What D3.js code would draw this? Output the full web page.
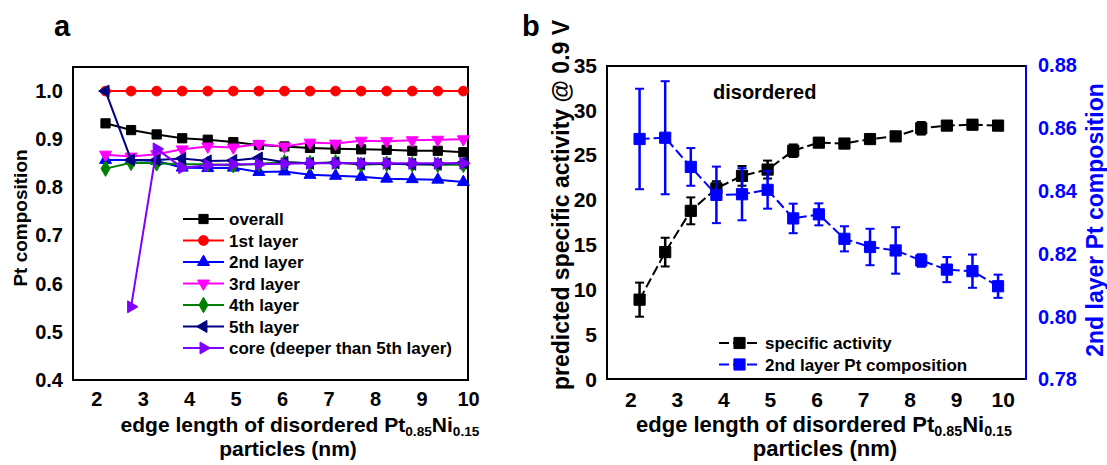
<!DOCTYPE html>
<html><head><meta charset="utf-8">
<script src="https://cdn.jsdelivr.net/npm/d3@7"></script>
<style>
body{margin:0;background:#fff;}
text{font-family:"Liberation Sans",Arial,sans-serif;font-weight:bold;}
</style></head>
<body><svg id="chart" width="1107" height="465"></svg>
<script>
// ---------- data ----------
const sizes   = [2.2, 2.75, 3.3, 3.85, 4.4, 4.95, 5.5, 6.05, 6.6, 7.15, 7.7, 8.25, 8.8, 9.35, 9.9];
const overall = [0.933,0.919,0.910,0.902,0.899,0.894,0.888,0.885,0.882,0.880,0.879,0.878,0.876,0.876,0.873];
const layer1  = [1.0,1.0,1.0,1.0,1.0,1.0,1.0,1.0,1.0,1.0,1.0,1.0,1.0,1.0,1.0];
const layer2  = [0.857,0.857,0.855,0.841,0.840,0.841,0.832,0.833,0.826,0.824,0.822,0.818,0.817,0.816,0.811];
const layer3  = [0.868,0.864,0.869,0.879,0.885,0.883,0.890,0.885,0.893,0.891,0.897,0.896,0.898,0.899,0.900];
const layer4  = [0.839,0.851,0.850,0.848,0.848,0.846,0.849,0.852,0.850,0.852,0.847,0.849,0.848,0.847,0.847];
const layer5  = [1.0,0.857,0.857,0.860,0.855,0.856,0.861,0.852,0.850,0.851,0.849,0.849,0.848,0.848,0.851];
const core    = [null,0.552,0.880,0.841,0.846,0.848,0.848,0.849,0.850,0.850,0.850,0.850,0.850,0.850,0.850];
const seriesNamesA = ["overall","1st layer","2nd layer","3rd layer","4th layer","5th layer","core (deeper than 5th layer)"];

const activity    = [8.9,14.2,18.8,21.3,22.7,23.4,25.5,26.4,26.3,26.8,27.1,28.0,28.3,28.4,28.3];
const activityErr = [1.9,1.6,1.5,0.8,1.1,1.0,0.7,0.4,0.5,0.4,0.3,0.7,0.3,0.5,0.5];
const comp2       = [0.8566,0.8570,0.8477,0.8388,0.8390,0.8404,0.8313,0.8326,0.8248,0.8222,0.8211,0.8179,0.8150,0.8145,0.8097];
const comp2Err    = [0.016,0.018,0.006,0.009,0.0083,0.006,0.0047,0.0035,0.004,0.0058,0.0074,0.002,0.004,0.0053,0.0037];

const xTicks  = [2,3,4,5,6,7,8,9,10];
const yTicksA = [0.4,0.5,0.6,0.7,0.8,0.9,1.0];
const yTicksL = [0,5,10,15,20,25,30,35];
const yTicksR = [0.78,0.80,0.82,0.84,0.86,0.88];

// ---------- setup ----------
const svg = d3.select("#chart");
const BLUE = "#0000ff";

function sym(g, type, size, x, y, color, rot) {
  g.append("path")
    .attr("d", d3.symbol().type(type).size(size)())
    .attr("transform", `translate(${x},${y}) rotate(${rot||0})`)
    .attr("fill", color).attr("stroke", color).attr("stroke-width", 1);
}

// ================= Panel a =================
const xA = d3.scaleLinear().domain([1.5, 10]).range([73, 468]);
const yA = d3.scaleLinear().domain([0.4, 1.05]).range([380, 67]);

const gA = svg.append("g");
gA.append("rect").attr("x", 73).attr("y", 67).attr("width", 468 - 73).attr("height", 380 - 67)
  .attr("fill", "none").attr("stroke", "#000").attr("stroke-width", 2);

const axA_x = gA.append("g").attr("transform", "translate(0,380)")
  .call(d3.axisBottom(xA).tickValues(xTicks).tickSize(0).tickPadding(12).tickFormat(d3.format("d")));
const axA_y = gA.append("g").attr("transform", "translate(73,0)")
  .call(d3.axisLeft(yA).tickValues(yTicksA).tickSize(0).tickPadding(10).tickFormat(d3.format(".1f")));
[axA_x, axA_y].forEach(a => {
  a.select(".domain").remove();
  a.selectAll("text").attr("font-size", 20).attr("font-family", "Liberation Sans").attr("font-weight", "bold").attr("fill", "#000");
});

const seriesA = [
  {name: seriesNamesA[0], vals: overall, color: "#000000", type: d3.symbolSquare, size: 85, rot: 0},
  {name: seriesNamesA[1], vals: layer1,  color: "#ff0000", type: d3.symbolCircle, size: 75, rot: 0},
  {name: seriesNamesA[2], vals: layer2,  color: "#0000ff", type: d3.symbolTriangle, size: 62, rot: 0},
  {name: seriesNamesA[3], vals: layer3,  color: "#ff00ff", type: d3.symbolTriangle, size: 62, rot: 180},
  {name: seriesNamesA[4], vals: layer4,  color: "#008000", type: d3.symbolDiamond, size: 70, rot: 0},
  {name: seriesNamesA[5], vals: layer5,  color: "#000080", type: d3.symbolTriangle, size: 62, rot: -90},
  {name: seriesNamesA[6], vals: core,    color: "#8000ff", type: d3.symbolTriangle, size: 62, rot: 90}
];

const lineA = d3.line().defined(d => d[1] != null).x(d => xA(d[0])).y(d => yA(d[1]));
seriesA.forEach(s => {
  const pts = sizes.map((x, i) => [x, s.vals[i]]);
  gA.append("path").attr("d", lineA(pts)).attr("fill", "none")
    .attr("stroke", s.color).attr("stroke-width", 2);
  pts.filter(p => p[1] != null).forEach(p => sym(gA, s.type, s.size, xA(p[0]), yA(p[1]), s.color, s.rot));
});

// legend a
const legA = gA.append("g");
seriesA.forEach((s, i) => {
  const y = 219 + i * 21.5;
  legA.append("line").attr("x1", 183).attr("x2", 224).attr("y1", y).attr("y2", y)
    .attr("stroke", s.color).attr("stroke-width", 2);
  sym(legA, s.type, s.size, 203.5, y, s.color, s.rot);
  legA.append("text").attr("x", 229).attr("y", y + 6).attr("font-size", 17).attr("fill", "#000").text(s.name);
});

// titles a
gA.append("text").attr("transform", "translate(27,218) rotate(-90)").attr("text-anchor", "middle")
  .attr("font-size", 19).attr("fill", "#000").text("Pt composition");
function xTitle(g, cx1, cx2, fs) {
  const t = g.append("text").attr("x", cx1).attr("y", 432).attr("text-anchor", "middle").attr("font-size", fs).attr("fill", "#000");
  t.append("tspan").text("edge length of disordered Pt");
  t.append("tspan").attr("font-size", fs * 0.65).attr("dy", 4).text("0.85");
  t.append("tspan").attr("dy", -4).text("Ni");
  t.append("tspan").attr("font-size", fs * 0.65).attr("dy", 4).text("0.15");
  g.append("text").attr("x", cx2).attr("y", 456).attr("text-anchor", "middle").attr("font-size", fs).attr("fill", "#000").text("particles (nm)");
}
xTitle(gA, 300, 288, 21);
svg.append("text").attr("x", 54).attr("y", 36).attr("font-size", 29).attr("fill", "#000").text("a");

// ================= Panel b =================
const xB = d3.scaleLinear().domain([1.5, 10.5]).range([607, 1026]);
const yL = d3.scaleLinear().domain([0, 35]).range([379.5, 65.5]);
const yR = d3.scaleLinear().domain([0.78, 0.88]).range([379.5, 65.5]);

const gB = svg.append("g");
gB.append("path").attr("d", "M1026,66 L607,66 L607,379 L1026,379").attr("fill", "none").attr("stroke", "#000").attr("stroke-width", 2);
gB.append("line").attr("x1", 1026).attr("x2", 1026).attr("y1", 65).attr("y2", 380).attr("stroke", BLUE).attr("stroke-width", 2);

const axB_x = gB.append("g").attr("transform", "translate(0,379)")
  .call(d3.axisBottom(xB).tickValues(xTicks).tickSize(0).tickPadding(13).tickFormat(d3.format("d")));
const axB_l = gB.append("g").attr("transform", "translate(607,0)")
  .call(d3.axisLeft(yL).tickValues(yTicksL).tickSize(0).tickPadding(10).tickFormat(d3.format("d")));
const axB_r = gB.append("g").attr("transform", "translate(1026,0)")
  .call(d3.axisRight(yR).tickValues(yTicksR).tickSize(0).tickPadding(12).tickFormat(d3.format(".2f")));
[axB_x, axB_l, axB_r].forEach(a => {
  a.select(".domain").remove();
  a.selectAll("text").attr("font-size", 21).attr("font-family", "Liberation Sans").attr("font-weight", "bold").attr("fill", "#000");
});
axB_r.selectAll("text").attr("fill", BLUE).attr("font-size", 20);

function errSeries(g, vals, errs, yS, color) {
  const pts = sizes.map((x, i) => [x, vals[i], errs[i]]);
  g.append("path").attr("d", d3.line().x(d => xB(d[0])).y(d => yS(d[1]))(pts))
    .attr("fill", "none").attr("stroke", color).attr("stroke-width", 2).attr("stroke-dasharray", "10,4");
  pts.forEach(p => {
    const x = xB(p[0]), y1 = yS(p[1] + p[2]), y2 = yS(p[1] - p[2]);
    g.append("line").attr("x1", x).attr("x2", x).attr("y1", y1).attr("y2", y2).attr("stroke", color).attr("stroke-width", 2.5);
    [y1, y2].forEach(yy => g.append("line").attr("x1", x - 4.5).attr("x2", x + 4.5).attr("y1", yy).attr("y2", yy).attr("stroke", color).attr("stroke-width", 2));
  });
  pts.forEach(p => sym(g, d3.symbolSquare, 125, xB(p[0]), yS(p[1]), color, 0));
}
errSeries(gB, activity, activityErr, yL, "#000000");
errSeries(gB, comp2, comp2Err, yR, BLUE);

// legend b
[["specific activity", "#000000"], ["2nd layer Pt composition", BLUE]].forEach((e, i) => {
  const y = 343 + i * 21.5;
  gB.append("line").attr("x1", 719).attr("x2", 760).attr("y1", y).attr("y2", y)
    .attr("stroke", e[1]).attr("stroke-width", 2).attr("stroke-dasharray", "10,4");
  sym(gB, d3.symbolSquare, 125, 739.5, y, e[1], 0);
  gB.append("text").attr("x", 765).attr("y", y + 6).attr("font-size", 17).attr("fill", "#000").text(e[0]);
});
gB.append("text").attr("x", 713).attr("y", 99).attr("font-size", 20).attr("fill", "#000").text("disordered");

// titles b
gB.append("text").attr("transform", "translate(569,205) rotate(-90)").attr("text-anchor", "middle")
  .attr("font-size", 23).attr("fill", "#000").text("predicted specific activity @ 0.9 V");
gB.append("text").attr("transform", "translate(1103,220) rotate(-90)").attr("text-anchor", "middle")
  .attr("font-size", 23).attr("fill", BLUE).text("2nd layer Pt composition");
xTitle(gB, 824, 825, 22);
svg.append("text").attr("x", 522).attr("y", 36).attr("font-size", 29).attr("fill", "#000").text("b");
</script></body></html>
